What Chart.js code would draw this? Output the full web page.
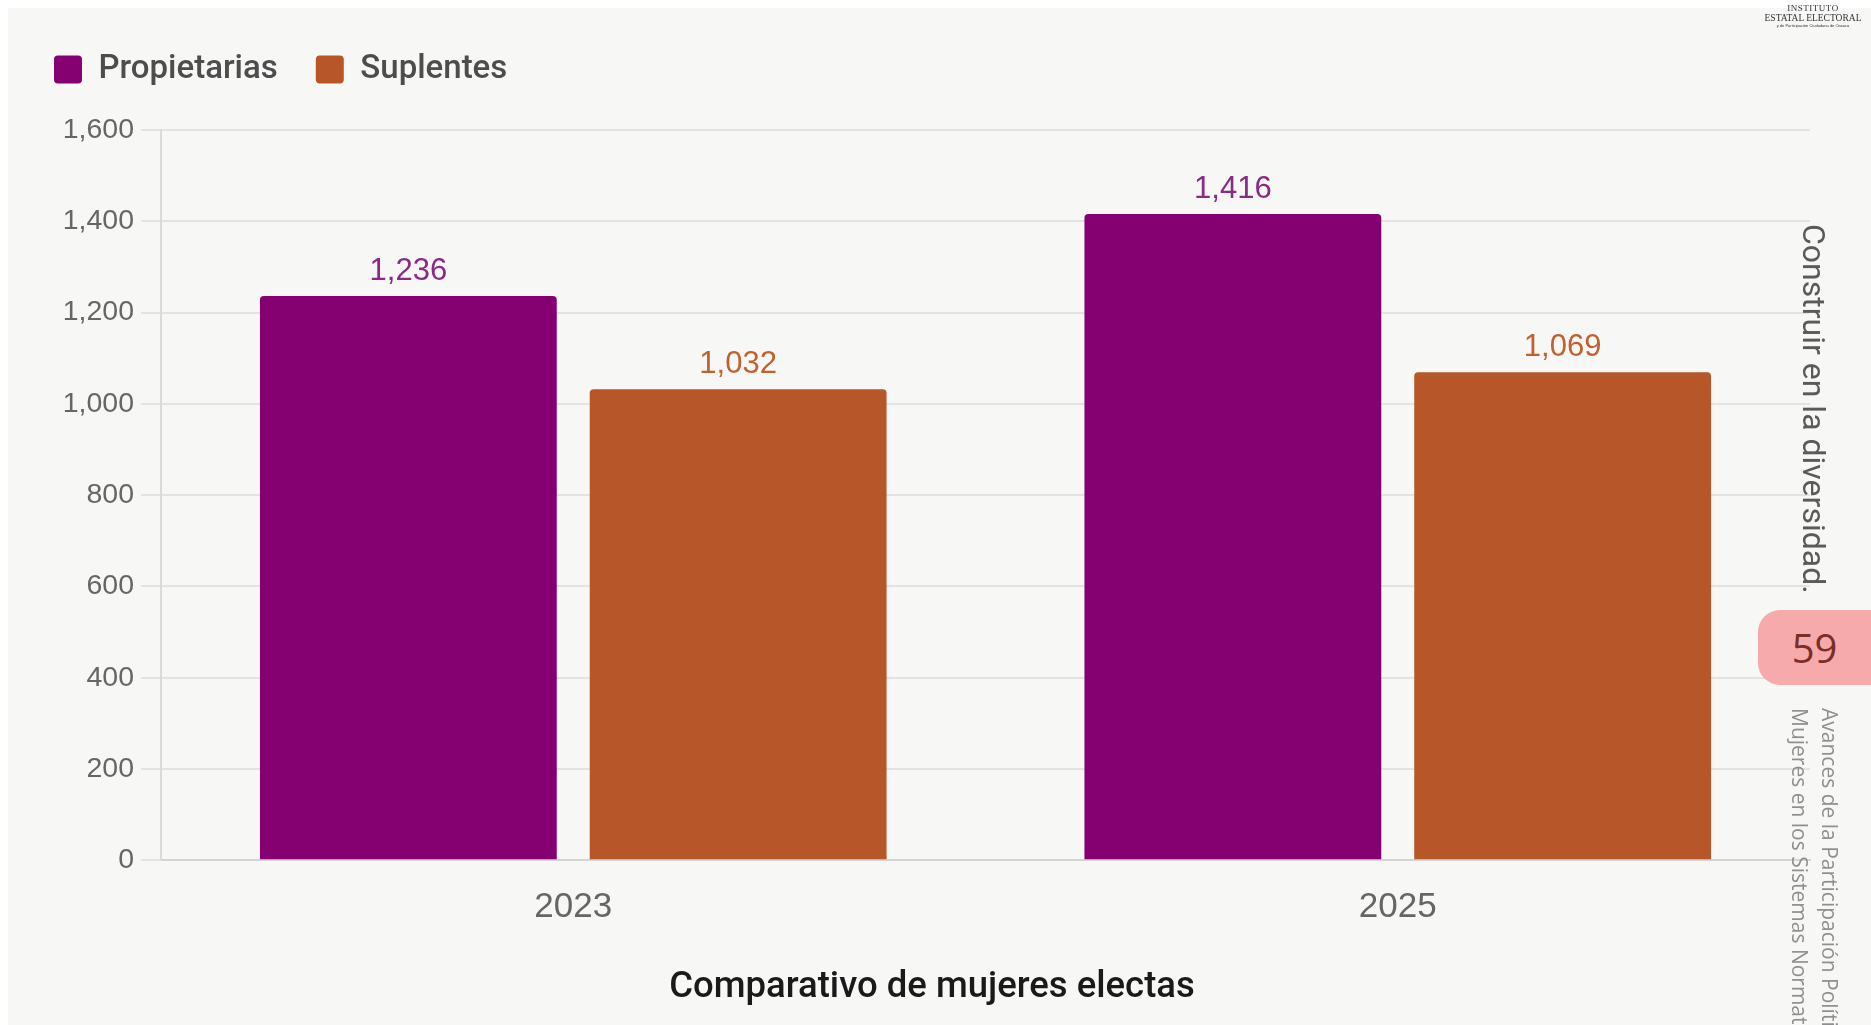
<!DOCTYPE html>
<html>
<head>
<meta charset="utf-8">
<script src="https://cdn.jsdelivr.net/npm/chart.js@4.4.1/dist/chart.umd.min.js"></script>
<style>
  html, body { margin:0; padding:0; width:1871px; height:1025px; overflow:hidden; background:#ffffff; position:relative; font-family:"Liberation Sans", Arial, sans-serif; }
  #panel { position:absolute; left:8px; top:8px; width:1863px; height:1017px; background:#f7f7f6; }
  #c { position:absolute; left:8px; top:8px; }
  .rot { position:absolute; transform-origin:0 0; transform:rotate(90deg); white-space:nowrap; }
  #motto { left:1833px; top:224px; font-family:Roboto, sans-serif; font-size:32px; line-height:38px; color:#5a5a5a; }
  #pub { left:1845px; top:708px; font-family:"Open Sans", sans-serif; font-size:21px; line-height:30px; color:#8f8f8f; }
  #page { position:absolute; left:1758px; top:610px; width:113px; height:75px; background:#f6aaac; border-radius:22px 0 0 22px; color:#7a2e26; font-family:"Open Sans", sans-serif; font-size:40px; line-height:75px; text-align:center; }
  #logo { position:absolute; left:1760px; top:4px; width:106px; text-align:center; font-family:"Liberation Serif", serif; color:#333; }
  #logo .l1 { font-size:9px; line-height:9px; letter-spacing:0.5px; }
  #logo .l2 { font-size:9.5px; line-height:10px; }
  #logo .l3 { font-size:4px; line-height:6px; font-family:"Liberation Sans", sans-serif; }
</style>
</head>
<body>
<div id="panel"></div>
<canvas id="c" width="1848" height="1017"></canvas>
<div id="logo"><div class="l1">INSTITUTO</div><div class="l2">ESTATAL ELECTORAL</div><div class="l3">y de Participación Ciudadana de Oaxaca</div></div>
<div id="motto" class="rot">Construir en la diversidad.</div>
<div id="page">59</div>
<div id="pub" class="rot">Avances de la Participación Política de las<br>Mujeres en los Sistemas Normativos Indígenas</div>
<script>
// ---- data ----
const categories = ["2023", "2025"];
const propietarias = [1236, 1416];
const suplentes = [1032, 1069];
const seriesNames = ["Propietarias", "Suplentes"];
const yTicks = [0, 200, 400, 600, 800, 1000, 1200, 1400, 1600];
const chartTitle = "Comparativo de mujeres electas";

const barColors = ["#850070", "#b75628"];
const labelColors = ["#8a2a84", "#c0612f"];

const fmt = v => Number(v).toLocaleString("en-US");

const valueLabels = {
  id: "valueLabels",
  afterDatasetsDraw(chart) {
    const ctx = chart.ctx;
    ctx.save();
    ctx.font = '31px "Liberation Sans", Arial, sans-serif';
    ctx.textAlign = "center";
    ctx.textBaseline = "alphabetic";
    chart.data.datasets.forEach((ds, i) => {
      const meta = chart.getDatasetMeta(i);
      meta.data.forEach((el, j) => {
        ctx.fillStyle = labelColors[i];
        ctx.fillText(fmt(ds.data[j]), el.x, el.y - 16);
      });
    });
    ctx.restore();
  }
};

const legendGap = {
  id: "legendGap",
  beforeInit(chart) {
    const orig = chart.legend.fit;
    chart.legend.fit = function () {
      orig.bind(chart.legend)();
      this.height += 34;
    };
  }
};

new Chart(document.getElementById("c"), {
  type: "bar",
  data: {
    labels: categories,
    datasets: [
      { label: seriesNames[0], data: propietarias, backgroundColor: barColors[0], borderRadius: 4, borderSkipped: "bottom", categoryPercentage: 0.8, barPercentage: 0.9, yAxisID: "y" },
      { label: seriesNames[1], data: suplentes, backgroundColor: barColors[1], borderRadius: 4, borderSkipped: "bottom", categoryPercentage: 0.8, barPercentage: 0.9, yAxisID: "y" }
    ]
  },
  options: {
    responsive: false,
    animation: false,
    layout: { padding: { left: 8, right: 8, top: 7, bottom: 15 } },
    plugins: {
      legend: {
        align: "start",
        labels: {
          boxWidth: 28, boxHeight: 28, useBorderRadius: true, borderRadius: 4,
          padding: 38, color: "#4d4d4d",
          font: { family: "Roboto", size: 33, weight: "500" }
        }
      },
      title: {
        display: true, position: "bottom", text: chartTitle, color: "#1a1a1a",
        font: { family: "Roboto", size: 36.5, weight: "500" },
        padding: { top: 12, bottom: 0 }
      },
      tooltip: { enabled: false }
    },
    scales: {
      x: {
        grid: { display: false, drawTicks: false },
        border: { display: true, color: "#d4d4d4", width: 2 },
        ticks: { color: "#666666", font: { family: "Liberation Sans", size: 35 }, padding: 26 }
      },
      y: {
        min: 0, max: 1600,
        afterBuildTicks(scale) { scale.ticks = yTicks.map(v => ({ value: v })); },
        afterFit(scale) { scale.width = 145; },
        ticks: { color: "#666666", font: { family: "Liberation Sans", size: 28.5 }, padding: 7, callback: v => fmt(v) },
        grid: { color: "#e3e3e3", lineWidth: 2, tickLength: 20 },
        border: { display: true, color: "#dadada", width: 2 }
      },
      yPad: {
        type: "linear", position: "right", display: true,
        afterFit(scale) { scale.width = 38; },
        ticks: { display: false },
        grid: { display: false, drawTicks: false },
        border: { display: false }
      }
    }
  },
  plugins: [valueLabels, legendGap]
});
</script>
</body>
</html>
